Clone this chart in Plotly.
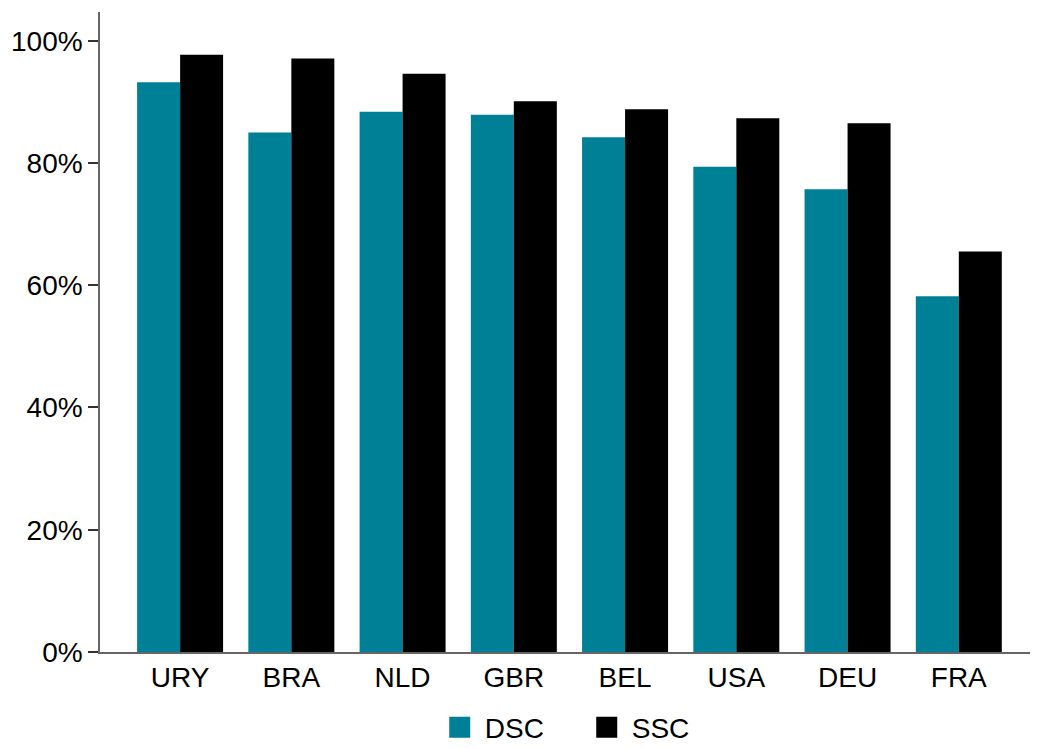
import plotly.graph_objects as go

countries = ["URY", "BRA", "NLD", "GBR", "BEL", "USA", "DEU", "FRA"]
dsc = [0.932, 0.850, 0.884, 0.879, 0.842, 0.794, 0.757, 0.582]
ssc = [0.977, 0.971, 0.946, 0.901, 0.888, 0.873, 0.865, 0.655]
y_ticks = [0, 0.2, 0.4, 0.6, 0.8, 1.0]
y_tick_labels = ["0%", "20%", "40%", "60%", "80%", "100%"]

TEAL = "#008096"
FONT = "Arial, Liberation Sans, sans-serif"
FS = 28

fig = go.Figure()
fig.add_trace(go.Bar(name="DSC", x=countries, y=dsc, marker=dict(color=TEAL, line=dict(width=0)), showlegend=False))
fig.add_trace(go.Bar(name="SSC", x=countries, y=ssc, marker=dict(color="black", line=dict(width=0)), showlegend=False))
# legend entries with large square swatches
fig.add_trace(go.Scatter(name="DSC", x=[None], y=[None], mode="markers",
                         marker=dict(symbol="square", size=28, color=TEAL, line=dict(width=10, color=TEAL))))
fig.add_trace(go.Scatter(name="SSC", x=[None], y=[None], mode="markers",
                         marker=dict(symbol="square", size=28, color="black", line=dict(width=10, color="black"))))

fig.update_layout(
    width=1030, height=740,
    margin=dict(l=92, r=8, t=4, b=96, autoexpand=False),
    paper_bgcolor="white", plot_bgcolor="white",
    barmode="group", bargap=0.227, bargroupgap=0,
    font=dict(family=FONT, size=FS, color="black"),
    legend=dict(orientation="h", x=0.518, xanchor="center", y=-0.118, yanchor="middle",
                font=dict(size=FS), itemsizing="trace", traceorder="normal",
                itemwidth=40, entrywidth=92, entrywidthmode="pixels"),
    xaxis=dict(range=[-0.72, 7.64], showline=True, linecolor="#666666", linewidth=1.5,
               ticks="", showgrid=False, zeroline=False, tickfont=dict(size=FS)),
    yaxis=dict(range=[0, 1.047], tickvals=y_ticks, ticktext=y_tick_labels,
               showline=True, linecolor="#666666", linewidth=1.5,
               ticks="outside", ticklen=10, tickcolor="#333333", tickwidth=1.5,
               showgrid=False, zeroline=False, tickfont=dict(size=FS)),
)

fig.write_html("out.html")
